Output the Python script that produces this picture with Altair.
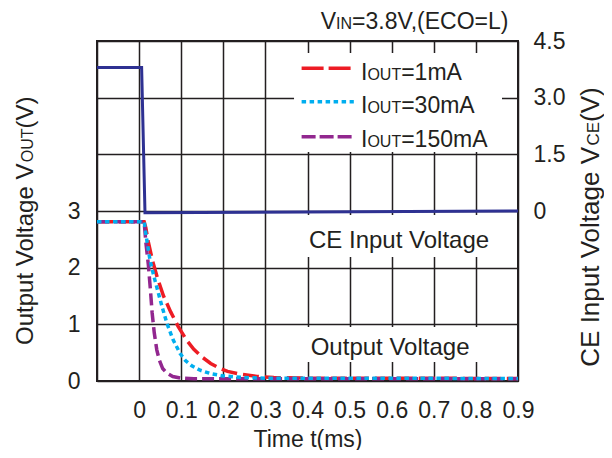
import altair as alt
import pandas as pd

FONT = "Liberation Sans"
INK = "#231f20"
RED = "#ED1C24"
CYAN = "#00AEEF"
PURPLE = "#92278F"
NAVY = "#2E3192"

# ---- data ----
t_red = [-0.1, 0.012, 0.016, 0.022, 0.032, 0.043, 0.058, 0.075, 0.093, 0.113, 0.13, 0.15,
         0.17, 0.19, 0.21, 0.24, 0.28, 0.32, 0.4, 0.9]
v_red = [2.81, 2.81, 2.7, 2.45, 2.12, 1.83, 1.5, 1.22, 0.96, 0.72, 0.56, 0.42,
         0.31, 0.23, 0.17, 0.12, 0.08, 0.06, 0.05, 0.045]

t_cyan = [-0.1, 0.012, 0.018, 0.026, 0.035, 0.044, 0.055, 0.066, 0.08, 0.097, 0.11, 0.125,
          0.145, 0.17, 0.2, 0.25, 0.3, 0.9]
v_cyan = [2.81, 2.81, 2.5, 2.13, 1.85, 1.6, 1.3, 1.02, 0.74, 0.49, 0.36, 0.27,
          0.19, 0.13, 0.09, 0.06, 0.05, 0.045]

t_purple = [-0.1, 0.012, 0.016, 0.022, 0.027, 0.031, 0.036, 0.042, 0.048, 0.056, 0.066,
            0.08, 0.1, 0.13, 0.9]
v_purple = [2.81, 2.81, 2.45, 2.05, 1.6, 1.2, 0.85, 0.55, 0.37, 0.22, 0.14,
            0.08, 0.05, 0.04, 0.04]

t_ce = [-0.1, 0.006, 0.014, 0.9]
v_ce = [3.8, 3.8, -0.045, 0.0]

series_names = ["1mA", "30mA", "150mA"]
x_ticks = [-0.1, 0, 0.1, 0.2, 0.3, 0.4, 0.5, 0.6, 0.7, 0.8, 0.9]
yl_ticks = [0, 1, 2, 3, 4, 5, 6]
yr_ticks = [-4.5, -3.0, -1.5, 0, 1.5, 3.0, 4.5]

# ---- scales & axes ----
x_scale = alt.Scale(domain=[-0.1, 0.9], nice=False, zero=False)
yl_scale = alt.Scale(domain=[0, 6], nice=False, zero=False)
yr_scale = alt.Scale(domain=[-4.5, 4.5], nice=False, zero=False)

x_axis = alt.Axis(
    values=x_ticks, grid=True, gridColor=INK, gridWidth=1.5, gridOpacity=1,
    ticks=False, tickSize=0, domain=False, labelFlush=False,
    labelExpr="datum.value < -0.05 ? '' : (abs(datum.value) < 1e-9 ? '0' : format(datum.value, '.1f'))",
    labelFont=FONT, labelFontSize=23, labelColor=INK, labelPadding=18,
    title="Time t(ms)", titleFont=FONT, titleFontSize=23, titleFontWeight="normal",
    titleColor=INK, titlePadding=6,
)
yl_axis = alt.Axis(
    orient="left", values=yl_ticks, grid=True, gridColor=INK, gridWidth=1.5, gridOpacity=1,
    ticks=False, tickSize=0, domain=False, labelFlush=False,
    labelExpr="datum.value > 3.5 ? '' : format(datum.value, 'd')",
    labelFont=FONT, labelFontSize=23, labelColor=INK, labelPadding=17, title=None,
)
yr_axis = alt.Axis(
    orient="right", values=yr_ticks, grid=False, ticks=False, tickSize=0, domain=False,
    labelFlush=False,
    labelExpr="datum.value < -0.1 ? '' : (abs(datum.value) < 1e-9 ? '0' : format(datum.value, '.1f'))",
    labelFont=FONT, labelFontSize=23, labelColor=INK, labelPadding=15, title=None,
)

X = lambda f: alt.X(f, type="quantitative", scale=x_scale, axis=x_axis)
YL = lambda f: alt.Y(f, type="quantitative", scale=yl_scale, axis=yl_axis)

# ---- white boxes behind labels / legend ----
boxes = pd.DataFrame({
    "t1": [0.368, 0.382, 0.382], "t2": [0.862, 0.869, 0.869],
    "v1": [4.041, 2.188, 0.335], "v2": [5.788, 2.929, 0.953],
})
box_layer = alt.Chart(boxes).mark_rect(color="white").encode(
    x=X("t1"), x2="t2", y=YL("v1"), y2="v2")

def line_layer(ts, vs, color, dash):
    df = pd.DataFrame({"t": ts, "v": vs})
    return alt.Chart(df).mark_line(color=color, strokeWidth=3.5, strokeDash=dash,
                                   strokeCap="butt").encode(x=X("t"), y=YL("v"))

red_l = line_layer(t_red, v_red, RED, [16, 6])
purple_l = line_layer(t_purple, v_purple, PURPLE, [12, 5])
cyan_l = line_layer(t_cyan, v_cyan, CYAN, [4.5, 3.5])

# legend samples
leg_t1, leg_t2 = 0.386, 0.510
leg_v = [5.518, 4.929, 4.311]
leg_styles = [(RED, [22, 5]), (CYAN, [4.5, 3.5]), (PURPLE, [14, 4])]
leg_layers = []
for v, (c, d) in zip(leg_v, leg_styles):
    df = pd.DataFrame({"t1": [leg_t1], "t2": [leg_t2], "v": [v]})
    leg_layers.append(alt.Chart(df).mark_rule(color=c, strokeWidth=3.5, strokeDash=d,
                                              strokeCap="butt").encode(
        x=X("t1"), x2="t2", y=YL("v")))

inner = alt.layer(box_layer, red_l, purple_l, cyan_l, *leg_layers)

ce_df = pd.DataFrame({"t": t_ce, "v": v_ce})
ce_layer = alt.Chart(ce_df).mark_line(color=NAVY, strokeWidth=3).encode(
    x=X("t"), y=alt.Y("v", type="quantitative", scale=yr_scale, axis=yr_axis))

# ---- text (mixed sizes for subscripts) ----
W = {" ": 278, "(": 333, ")": 333, ",": 278, ".": 278, "=": 584, "A": 667, "C": 722,
     "E": 667, "I": 278, "L": 556, "N": 722, "O": 778, "T": 611, "U": 722, "V": 667,
     "a": 556, "e": 556, "g": 556, "i": 222, "l": 222, "m": 833, "n": 556, "o": 556,
     "p": 556, "s": 500, "t": 278, "u": 556}
for dgt in "0123456789":
    W[dgt] = 556

def tw(s, size):
    return sum(W.get(ch, 556) for ch in s) / 1000.0 * size

one = pd.DataFrame({"k": [0]})

def rich(pieces, x0, y0, angle=0):
    out = []
    adv = 0.0
    for text, size in pieces:
        kw = dict(text=text, font=FONT, fontSize=size, color=INK, align="left",
                  baseline="alphabetic", dx=adv)
        if angle:
            kw["angle"] = angle
        out.append(alt.Chart(one).mark_text(**kw).encode(x=alt.value(x0), y=alt.value(y0)))
        adv += tw(text, size)
    return out

texts = []
texts += rich([("V", 23), ("IN", 16), ("=3.8V,(ECO=L)", 23)], 223.7, -12)
texts += rich([("I", 23), ("OUT", 16), ("=1mA", 23)], 264, 39)
texts += rich([("I", 23), ("OUT", 16), ("=30mA", 23)], 264, 72.3)
texts += rich([("I", 23), ("OUT", 16), ("=150mA", 23)], 264, 105.7)
texts += rich([("CE Input Voltage", 24)], 212, 207)
texts += rich([("Output Voltage", 24)], 213.7, 314)
texts += rich([("Output Voltage V", 24), ("OUT", 16), ("(V)", 24)], -64, 304, angle=270)
texts += rich([("CE Input Voltage V", 26), ("CE", 17), ("(V)", 26)], 502, 325.7, angle=270)

chart = alt.layer(inner, ce_layer, *texts).resolve_scale(y="independent").properties(
    width=421, height=340,
    padding={"left": 89, "top": 33, "right": 86, "bottom": 69},
    autosize=alt.AutoSizeParams(type="none"),
).configure_view(stroke=INK, strokeWidth=2)

chart.save("out.html", embed_options={"renderer": "svg", "actions": False})
